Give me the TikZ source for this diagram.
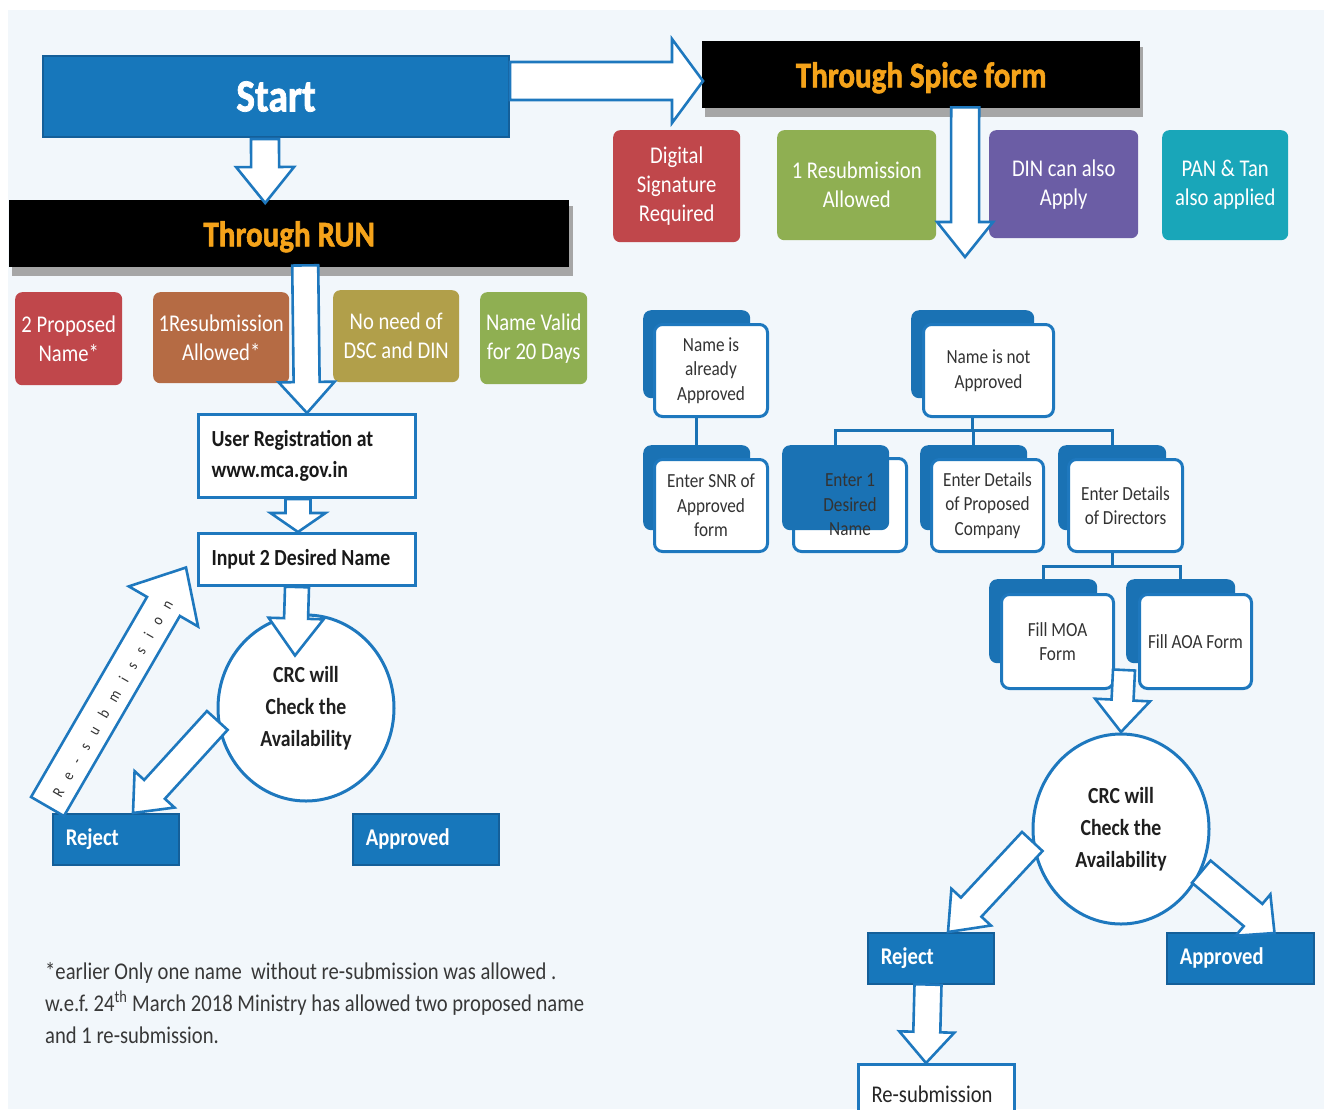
\documentclass[tikz,border=0pt]{standalone}
\usepackage{fontspec}
\setmainfont{Carlito}[FakeStretch=0.86]
\newfontfamily\heavyfont{Carlito}[FakeStretch=0.86, BoldFeatures={FakeBold=1.6}]
\usetikzlibrary{calc,shapes.geometric}
\definecolor{bg}{HTML}{F2F7FB}
\definecolor{sblue}{HTML}{1777BB}
\definecolor{sblued}{HTML}{145F99}
\definecolor{ablue}{HTML}{1E78BE}
\definecolor{tblue}{HTML}{1A72B4}
\definecolor{hdror}{HTML}{F5A31A}
\definecolor{cred}{HTML}{C0474B}
\definecolor{cbrown}{HTML}{B56B44}
\definecolor{colive}{HTML}{B19F4A}
\definecolor{cgreen}{HTML}{8FAF52}
\definecolor{cpurple}{HTML}{6B5DA5}
\definecolor{cteal}{HTML}{19A6B9}
\definecolor{tgray}{HTML}{333333}
\tikzset{
  arr/.style={draw=ablue, line width=2.6pt, fill=white, line join=miter},
  hdr/.style={fill=black, text=hdror, font=\heavyfont\bfseries\fontsize{36}{40}\selectfont, inner sep=0pt, text depth=0pt, anchor=north west},
  startbox/.style={fill=sblue, draw=sblued, line width=2pt, text=white, font=\heavyfont\bfseries\fontsize{46}{50}\selectfont, inner sep=0pt, anchor=north west},
  info/.style={rounded corners=7pt, text=white, align=center, font=\fontsize{24}{29}\selectfont, inner sep=0pt, anchor=north west},
  wbox/.style={draw=ablue, line width=3pt, fill=white, anchor=north west, inner xsep=13pt, inner ysep=0pt, text width=191pt, align=flush left, text=black!90, font=\bfseries\fontsize{23}{31}\selectfont},
  lbl/.style={fill=sblue, draw=sblued, line width=1.5pt, text=white, anchor=north west, inner xsep=13pt, inner ysep=0pt, align=flush left, font=\bfseries\fontsize{24}{28}\selectfont},
  crc/.style={ellipse, draw=ablue, line width=3pt, fill=white, inner sep=0pt, align=center, text=black!88, font=\bfseries\fontsize{23}{32}\selectfont},
  tback/.style={fill=tblue, rounded corners=8pt, inner sep=0pt, anchor=north west},
  tfront/.style={draw=ablue, line width=3pt, fill=white, rounded corners=8pt, anchor=north west, inner sep=0pt, align=center, text=tgray, font=\fontsize{20}{24.5}\selectfont},
  tline/.style={draw=tblue, line width=3pt},
  shadowbar/.style={fill=black!35}
}
\newcommand\hollowarrow[5]{%
  \path ($(#2)!#5!(#1)$) coordinate (hb);
  \draw[arr] ($(#1)!#3!90:(#2)$) -- ($(hb)!#3!90:(#2)$) -- ($(hb)!#4!90:(#2)$) -- (#2)
    -- ($(hb)!#4!-90:(#2)$) -- ($(hb)!#3!-90:(#2)$) -- ($(#1)!#3!-90:(#2)$) -- cycle;}
\frenchspacing
\begin{document}
\begin{tikzpicture}[x=1pt,y=-1pt]
\clip (0,0) rectangle (1330,1109);
\fill[white] (0,0) rectangle (1330,1109);
\fill[bg] (8,10) rectangle (1324,1109);

% headers
\node[startbox, minimum width=466pt, minimum height=81pt] (start) at (42,55) {Start};
\fill[shadowbar] (12,206) rectangle (573,276);
\node[hdr, minimum width=560pt, minimum height=67pt] (run) at (9,200) {Through RUN};
\fill[shadowbar] (705,47) rectangle (1143,117);
\node[hdr, minimum width=438pt, minimum height=67pt] (spice) at (702,41) {Through Spice form};

% info boxes left
\node[info, fill=cred, minimum width=107pt, minimum height=93pt] (pn) at (15,292) {2 Proposed\\Name*};
\node[info, fill=cbrown, minimum width=136pt, minimum height=91pt] (rs) at (153,292) {1Resubmission\\Allowed*};
\node[info, fill=colive, minimum width=126pt, minimum height=92pt] (dsc) at (333,290) {No need of\\DSC and DIN};
\node[info, fill=cgreen, minimum width=107pt, minimum height=92pt] (nv) at (480,292) {Name Valid\\for 20 Days};

% info boxes right
\node[info, fill=cred, minimum width=127pt, minimum height=112pt] (ds) at (613,130) {Digital\\Signature\\Required};
\node[info, fill=cgreen, minimum width=159pt, minimum height=110pt] (rs2) at (777,130) {1 Resubmission\\Allowed};
\node[info, fill=cpurple, minimum width=149pt, minimum height=108pt] (din) at (989,130) {DIN can also\\Apply};
\node[info, fill=cteal, minimum width=126pt, minimum height=110pt] (pan) at (1162,130) {PAN \& Tan\\also applied};

% left flow
\node[wbox, minimum width=217pt, minimum height=83pt] (ur) at (197,413) {User Registration at\\www.mca.gov.in};
\node[wbox, minimum width=217pt, minimum height=52pt] (in) at (197,532) {\mbox{Input 2 Desired Name}};
\node[crc, minimum width=176pt, minimum height=186pt] (crc1) at (306,708) {CRC will\\Check the\\Availability};
\node[lbl, minimum width=126pt, minimum height=51pt, text width=100pt] (rej1) at (52,813) {Reject};
\node[lbl, minimum width=146pt, minimum height=51pt, text width=120pt] (app1) at (352,813) {Approved};

% tree
\node[tback, minimum width=107pt, minimum height=88pt] (aa-b) at (643,310) {};
\node[tfront, minimum width=113pt, minimum height=92pt] (aa) at (653,323) {Name is\\already\\Approved};
\node[tback, minimum width=107pt, minimum height=85pt] (snr-b) at (643,445) {};
\node[tfront, minimum width=113pt, minimum height=92pt] (snr) at (653,458) {Enter SNR of\\Approved\\form};
\node[tback, minimum width=123pt, minimum height=88pt] (nn-b) at (911,310) {};
\node[tfront, minimum width=130pt, minimum height=92pt] (nn) at (922,323) {Name is not\\Approved};
\node[tfront, minimum width=113pt, minimum height=93pt] (e1) at (792,457) {};
\node[tback, minimum width=107pt, minimum height=85pt] (e1-b) at (782,445) {};
\node[align=center, text=tgray, font=\fontsize{20}{24.5}\selectfont, inner sep=0pt] (e1t) at (e1.center) {Enter 1\\Desired\\Name};
\node[tback, minimum width=107pt, minimum height=85pt] (pc-b) at (920,445) {};
\node[tfront, minimum width=112pt, minimum height=92pt] (pc) at (930,458) {Enter Details\\of Proposed\\Company};
\node[tback, minimum width=108pt, minimum height=85pt] (dir-b) at (1058,445) {};
\node[tfront, minimum width=114pt, minimum height=92pt] (dir) at (1067,458) {Enter Details\\of Directors};
\node[tback, minimum width=108pt, minimum height=84pt] (moa-b) at (989,579) {};
\node[tfront, minimum width=112pt, minimum height=94pt] (moa) at (1000,593) {Fill MOA\\Form};
\node[tback, minimum width=109pt, minimum height=84pt] (aoa-b) at (1126,579) {};
\node[tfront, minimum width=112pt, minimum height=94pt] (aoa) at (1138,593) {Fill AOA Form};

% tree connectors
\draw[tline] (aa-b.south |- aa.south) -- (snr-b.north);
\draw[tline] (nn-b.south |- nn.south) -- ++(0,12) coordinate (nbar);
\draw[tline] (e1-b.north) |- (nbar) -| (dir-b.north);
\draw[tline] (pc-b.north |- nbar) -- (pc-b.north);
\draw[tline] (dir-b.south |- dir.south) -- ++(0,13) coordinate (dbar);
\draw[tline] (moa-b.north) |- (dbar) -| (aoa-b.north);

% right flow
\node[crc, minimum width=176pt, minimum height=190pt] (crc2) at (1121,829) {CRC will\\Check the\\Availability};
\node[lbl, minimum width=126pt, minimum height=51pt, text width=100pt] (rej2) at (867,932) {Reject};
\node[lbl, minimum width=147pt, minimum height=51pt, text width=121pt] (app2) at (1166,932) {Approved};
\node[draw=ablue, line width=3pt, fill=white, anchor=north west, inner xsep=13pt, inner ysep=0pt, text width=130pt, align=flush left, minimum width=156pt, minimum height=60pt, text=black!85, font=\fontsize{24}{28}\selectfont] (resub) at (857,1063) {Re-submission};

% hollow arrows
\coordinate (a1s) at ($(start.north east)+(0,26)$);
\coordinate (a1e) at ($(spice.north west)+(1,40)$);
\hollowarrow{a1s}{a1e}{19pt}{42pt}{31pt}
\coordinate (a2s) at ($(start.south)+(-11,1)$);
\coordinate (a2e) at ($(run.north)+(-24,3)$);
\hollowarrow{a2s}{a2e}{14pt}{29pt}{36pt}
\coordinate (a3s) at ($(spice.south)+(44,-1)$);
\coordinate (a3e) at (965,257);
\hollowarrow{a3s}{a3e}{14pt}{28pt}{35pt}
\coordinate (a4s) at ($(run.south)+(16,-2)$);
\coordinate (a4e) at (ur.north);
\hollowarrow{a4s}{a4e}{13pt}{28pt}{31pt}
\coordinate (a5s) at ($(ur.south)+(-9,0)$);
\coordinate (a5e) at ($(in.north)+(-9,0)$);
\hollowarrow{a5s}{a5e}{12.5pt}{27.5pt}{19pt}
\coordinate (a6s) at ($(in.south)+(-10,0)$);
\coordinate (a6e) at ($(crc1.north)+(-11,42)$);
\hollowarrow{a6s}{a6e}{12pt}{27.5pt}{37pt}
\coordinate (a7e) at ($(rej1.north west)+(81,0)$);
\hollowarrow{crc1.188}{a7e}{14pt}{27pt}{32pt}
\coordinate (a8s) at ($(rej1.north west)+(-4.5,-6.5)$);
\coordinate (a8e) at ($(in.west)+(-11,8)$);
\hollowarrow{a8s}{a8e}{19pt}{40pt}{45pt}
\node[rotate=60, inner sep=0pt, text=black!80, font=\fontsize{16}{16}\selectfont] (rtxt) at (112.5,698.5)
  {R\kern12pt e\kern12pt -\kern12pt s\kern12pt u\kern12pt b\kern12pt m\kern12pt i\kern12pt s\kern12pt s\kern12pt i\kern12pt o\kern12pt n};
\coordinate (a9s) at ($(moa.south east)+(9,-20)$);
\coordinate (a9e) at (1121,732);
\hollowarrow{a9s}{a9e}{11pt}{27.5pt}{32pt}
\coordinate (a10e) at ($(rej2.north west)+(81,0)$);
\hollowarrow{crc2.188}{a10e}{14pt}{27pt}{34pt}
\coordinate (a11e) at ($(app2.north east)+(-40,1)$);
\hollowarrow{crc2.332}{a11e}{14.5pt}{27pt}{28pt}
\coordinate (a12s) at ($(rej2.south west)+(61,0)$);
\coordinate (a12e) at ($(resub.north west)+(69,0)$);
\hollowarrow{a12s}{a12e}{13.5pt}{27.5pt}{31pt}

% footnote
\node[anchor=north west, align=left, inner sep=0pt, text=black!78, font=\fontsize{24}{32}\selectfont] (note) at (45,962)
  {*earlier Only one name\ \ without re-submission was allowed .\\
   w.e.f. 24\textsuperscript{th} March 2018 Ministry has allowed two proposed name\\
   and 1 re-submission.};
\end{tikzpicture}
\end{document}
